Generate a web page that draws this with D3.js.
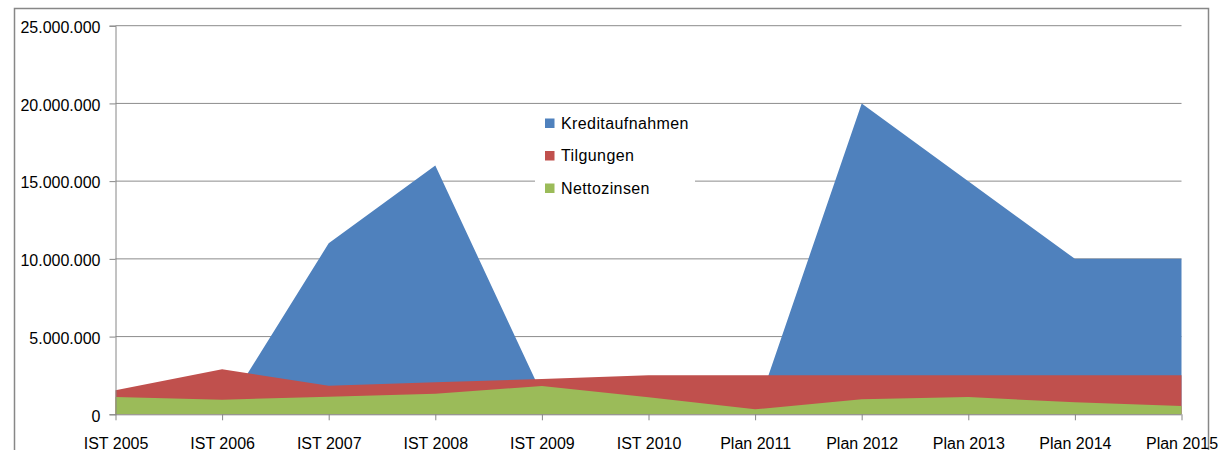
<!DOCTYPE html>
<html><head><meta charset="utf-8">
<script src="https://cdn.jsdelivr.net/npm/d3@7"></script>
<style>
html,body{margin:0;padding:0;background:#fff;}
svg{display:block;}
text{font-family:"Liberation Sans",Arial,sans-serif;fill:#000;}
</style></head>
<body>
<svg id="chart" width="1220" height="450"></svg>
<script>
const categories = ["IST 2005","IST 2006","IST 2007","IST 2008","IST 2009","IST 2010","Plan 2011","Plan 2012","Plan 2013","Plan 2014","Plan 2015"];
const kreditaufnahmen = [0, 0, 11000000, 16000000, 1300000, 0, 0, 20000000, 15000000, 10000000, 10000000];
const tilgungen = [1550000, 2900000, 1840000, 2060000, 2270000, 2520000, 2510000, 2510000, 2510000, 2510000, 2510000];
const nettozinsen = [1110000, 940000, 1130000, 1330000, 1820000, 1090000, 320000, 970000, 1110000, 770000, 530000];
const seriesNames = ["Kreditaufnahmen","Tilgungen","Nettozinsen"];
const seriesColors = ["#4F81BD","#C0504D","#9BBB59"];
const yTicks = [0, 5000000, 10000000, 15000000, 20000000, 25000000];

(function(){
const svg = d3.select("#chart");
const pLeft = 115.5, pRight = 1181.5, pTop = 25.7, pBottom = 414.3;

const x = d3.scalePoint().domain(categories).range([pLeft, pRight]);
const y = d3.scaleLinear().domain([0, 25000000]).range([pBottom, pTop]);
const de = d3.formatLocale({decimal:",", thousands:".", grouping:[3], currency:["","€"]});
const fmt = de.format(",d");

// outer chart border
svg.append("path")
  .attr("d", `M14.5,452 V8.5 H1208.5 V452`)
  .attr("fill","none").attr("stroke","#878787").attr("stroke-width",1.5);

// gridlines
svg.append("g").selectAll("line").data(yTicks.filter(d=>d>0)).join("line")
  .attr("x1", pLeft).attr("x2", pRight)
  .attr("y1", d=>y(d)).attr("y2", d=>y(d))
  .attr("stroke","#8c8c8c").attr("stroke-width",1);

// areas (overlapping, drawn in order)
const seriesData = [kreditaufnahmen, tilgungen, nettozinsen];
seriesData.forEach((vals, i) => {
  const area = d3.area()
    .x((d, j) => x(categories[j]))
    .y0(y(0))
    .y1(d => y(d));
  svg.append("path").datum(vals)
    .attr("d", area)
    .attr("fill", seriesColors[i]);
});

// y axis
const yAxis = d3.axisLeft(y).tickValues(yTicks).tickFormat(fmt).tickSize(6).tickPadding(9);
const gy = svg.append("g").attr("transform", `translate(${pLeft},0)`).call(yAxis);
gy.select(".domain").attr("stroke","#868686");
gy.selectAll(".tick line").attr("stroke","#868686");
gy.selectAll(".tick text").attr("font-size","16px").attr("font-family","'Liberation Sans',Arial,sans-serif").attr("fill","#000").attr("dy","0.42em");

// x axis
const xAxis = d3.axisBottom(x).tickSize(6).tickPadding(17);
const gx = svg.append("g").attr("transform", `translate(0,${pBottom})`).call(xAxis);
gx.select(".domain").attr("stroke","#868686").attr("d", `M${pLeft},0.5H${pRight}`);
gx.selectAll(".tick line").attr("stroke","#868686");
gx.selectAll(".tick text").attr("font-size","16px").attr("font-family","'Liberation Sans',Arial,sans-serif").attr("fill","#000");

// legend
const lg = svg.append("g");
lg.append("rect").attr("x",535).attr("y",108).attr("width",160).attr("height",96).attr("fill","#fff");
const rows = lg.selectAll("g.row").data(seriesNames).join("g")
  .attr("transform", (d,i)=>`translate(545,${123 + i*32.5})`);
rows.append("rect").attr("x",0).attr("y",-4.5).attr("width",9.5).attr("height",9.5)
  .attr("fill",(d,i)=>seriesColors[i]);
rows.append("text").attr("x",16).attr("y",0).attr("dy","0.36em")
  .attr("font-size","16px").attr("letter-spacing","0.4px").text(d=>d);
})();
</script>
</body></html>
